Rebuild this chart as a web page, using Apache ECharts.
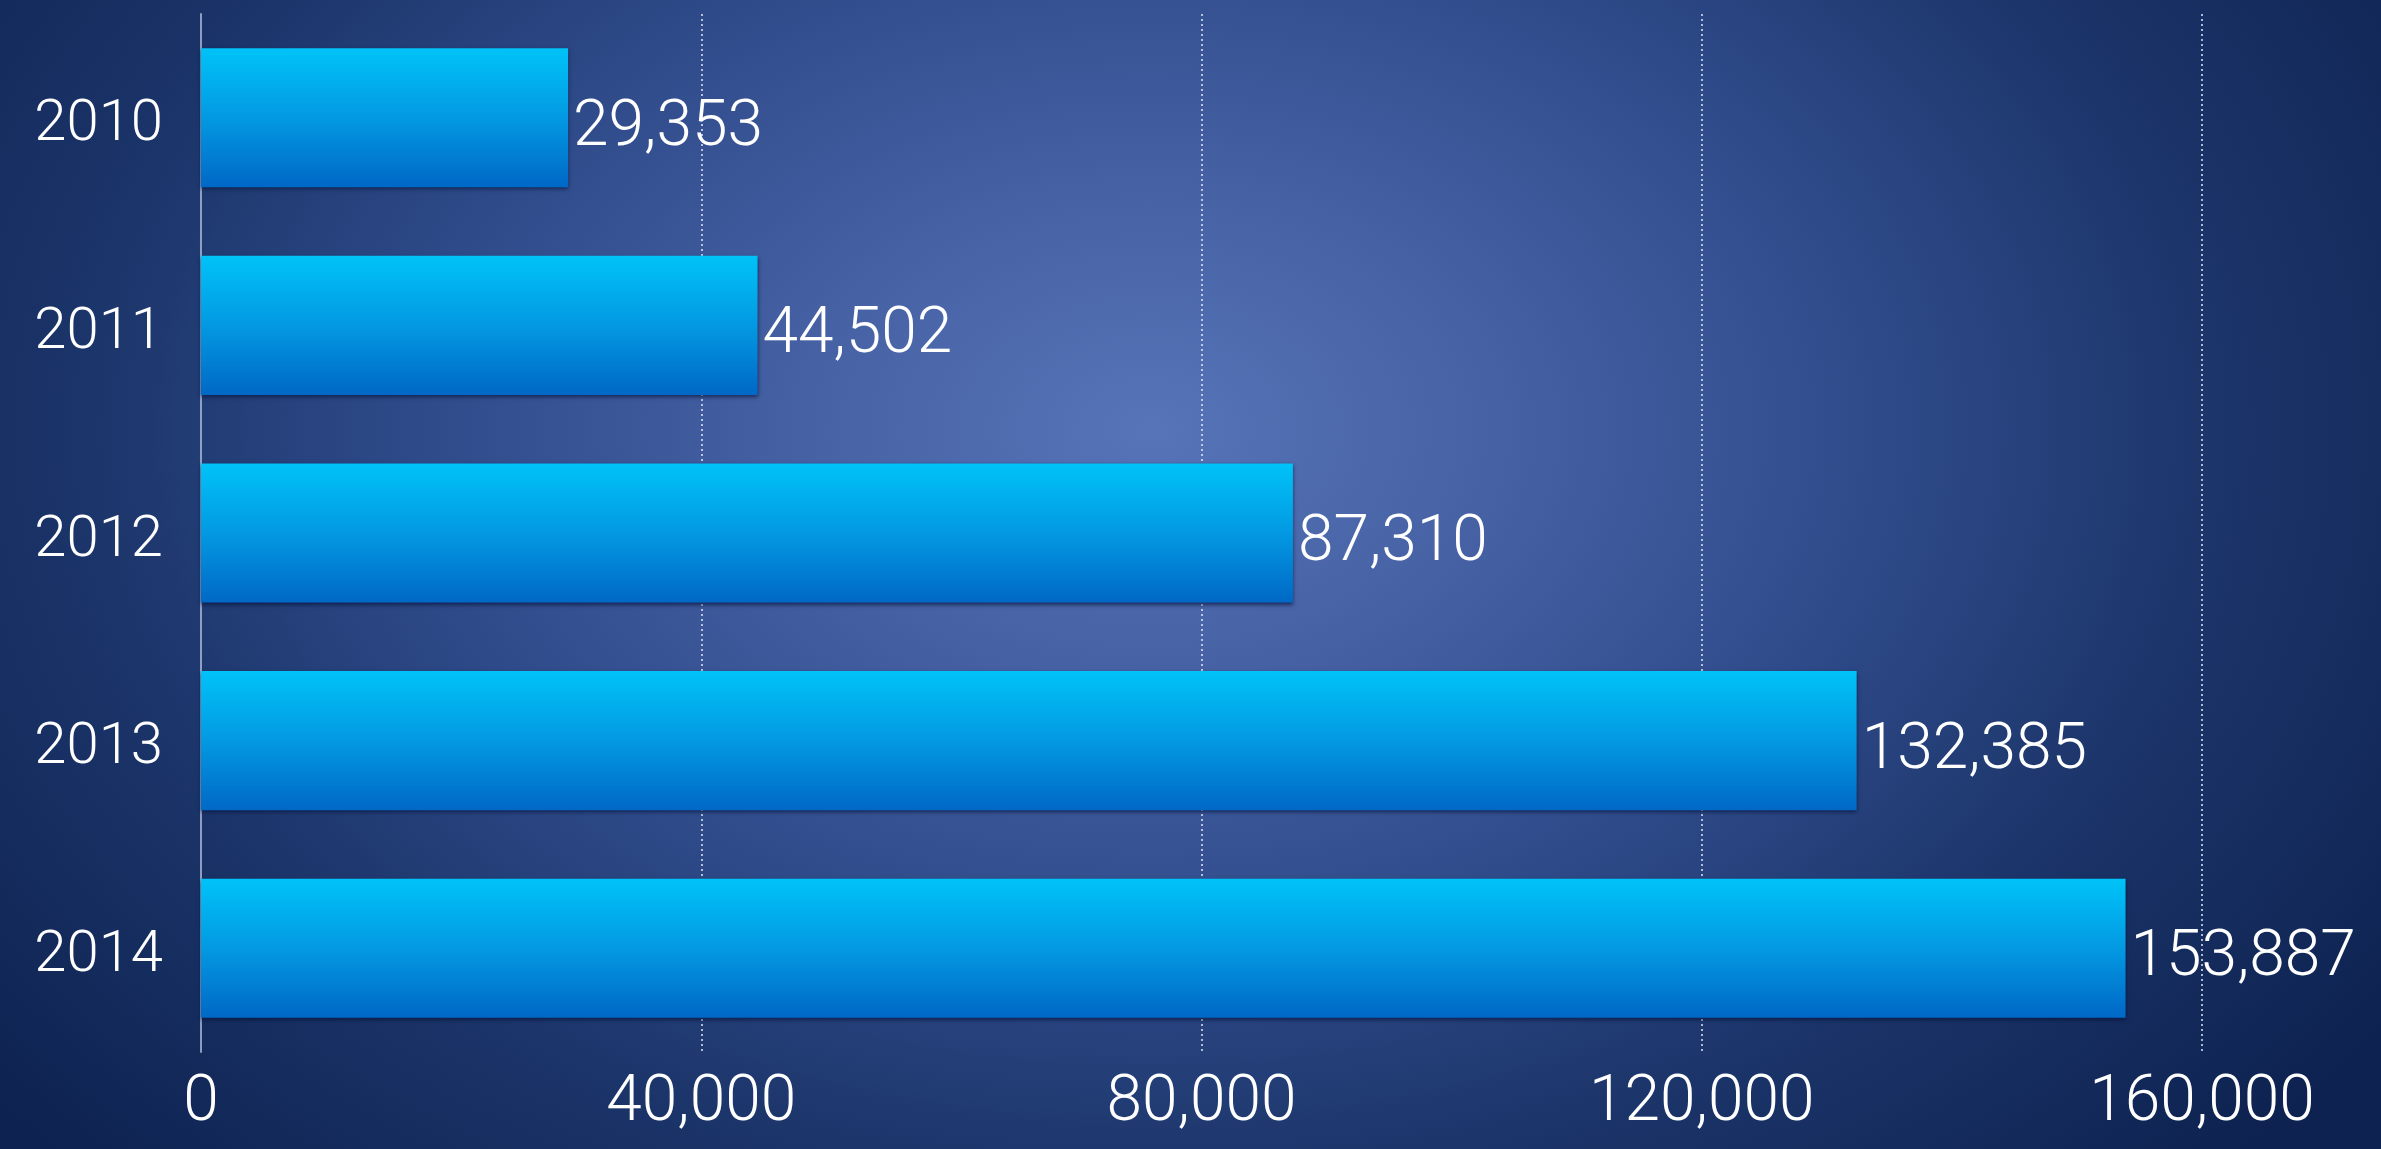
<!DOCTYPE html>
<html>
<head>
<meta charset="utf-8">
<title>Yearly totals 2010–2014</title>
<script src="https://cdn.jsdelivr.net/npm/echarts@6/dist/echarts.min.js"></script>
<style>
  html, body { margin: 0; padding: 0; width: 100%; height: 100%; overflow: hidden; }
  body {
    background: radial-gradient(ellipse 1500px 1050px at 1150px 430px,
      #5774b8 0%, #4763a6 22%, #2f4b8a 48%, #1b3469 72%, #0d2250 100%);
  }
  #chart { width: 2381px; height: 1149px; }
</style>
</head>
<body>
<div id="chart"></div>
<script>
// Years shown on the category axis (top to bottom)
const years = ['2010', '2011', '2012', '2013', '2014'];
// Yearly totals, one per year
const totals = [29353, 44502, 87310, 132385, 153887];
// Value-axis ticks
const axisMin = 0;
const axisMax = 160000;
const axisStep = 40000;

const fontFamily = '"Roboto", "Lato", "Noto Sans", "Liberation Sans", sans-serif';
const fmt = v => v.toLocaleString('en-US');

const chart = echarts.init(document.getElementById('chart'), null, { renderer: 'canvas' });

chart.setOption({
  backgroundColor: 'transparent',
  animation: false,
  grid: { left: 201, right: 179, top: 14, bottom: 97, containLabel: false },
  xAxis: {
    type: 'value',
    min: axisMin,
    max: axisMax,
    interval: axisStep,
    axisLine: { show: false },
    axisTick: { show: false },
    axisLabel: {
      color: '#ffffff',
      fontFamily: fontFamily,
      fontWeight: 300,
      fontSize: 64,
      margin: 20,
      formatter: v => fmt(v)
    },
    splitLine: {
      show: true,
      lineStyle: { color: 'rgba(225,232,248,0.75)', width: 2, type: [2, 3] },
      showMinLine: false
    }
  },
  yAxis: {
    type: 'category',
    data: years,
    inverse: true,
    axisLine: { show: true, lineStyle: { color: 'rgba(170,185,215,0.8)', width: 2 } },
    axisTick: { show: false },
    axisLabel: {
      margin: 38,
      formatter: v => '{y|' + v + '}',
      rich: {
        y: {
          color: '#ffffff',
          fontFamily: fontFamily,
          fontWeight: 300,
          fontSize: 58,
          padding: [16, 0, 0, 0]
        }
      }
    },
    splitLine: { show: false }
  },
  series: [{
    type: 'bar',
    data: totals,
    barCategoryGap: '33%',
    itemStyle: {
      color: new echarts.graphic.LinearGradient(0, 0, 0, 1, [
        { offset: 0, color: '#00c3f8' },
        { offset: 0.5, color: '#0399e2' },
        { offset: 1, color: '#0068c6' }
      ]),
      shadowColor: 'rgba(5,20,60,0.7)',
      shadowBlur: 4,
      shadowOffsetY: 2
    },
    label: {
      show: true,
      position: 'right',
      distance: 5,
      offset: [0, 11],
      color: '#ffffff',
      fontFamily: fontFamily,
      fontWeight: 300,
      fontSize: 64,
      formatter: p => fmt(p.value)
    }
  }]
});
</script>
</body>
</html>
